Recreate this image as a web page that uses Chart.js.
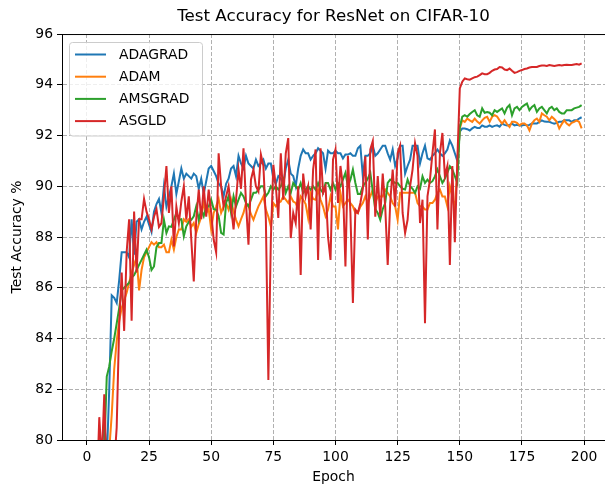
<!DOCTYPE html>
<html>
<head>
<meta charset="utf-8">
<script src="https://cdn.jsdelivr.net/npm/chart.js@4"></script>
<style>
  html, body { margin: 0; padding: 0; background: #fff; }
  canvas { display: block; }
</style>
</head>
<body>
<canvas id="accChart" width="605" height="487"></canvas>
<script>
// test accuracy per epoch
const seriesNames = ['ADAGRAD', 'ADAM', 'AMSGRAD', 'ASGLD'];
const seriesColors = ['#1f77b4', '#ff7f0e', '#2ca02c', '#d62728'];

const adagrad = [
  72.0, 74.0, 75.5, 76.5, 77.5, 78.5, 79.5, 80.8, 79.2, 82.0,
  85.7, 85.6, 85.4, 86.3, 87.4, 87.4, 87.4, 87.2, 88.7, 87.3,
  88.6, 88.7, 88.3, 88.6, 88.8, 88.5, 88.2, 89.0, 89.3, 89.5,
  88.95, 90.0, 89.2, 89.6, 90.0, 90.5, 89.7, 90.2, 90.7, 90.3,
  90.5, 90.4, 90.3, 90.5, 90.4, 89.9, 90.3, 89.7, 90.2, 90.7,
  90.8, 90.6, 90.4, 90.1, 90.0, 89.6, 90.1, 90.3, 90.7, 90.8,
  90.4, 91.2, 90.9, 90.7, 91.2, 90.9, 90.8, 90.7, 91.05, 90.8,
  90.9, 91.05, 90.7, 90.9, 90.9, 90.3, 90.1, 90.4, 90.3, 90.1,
  90.7, 91.05, 90.5, 90.4, 90.0, 90.7, 91.2, 91.45, 91.3, 91.3,
  91.05, 91.2, 91.3, 91.5, 91.4, 91.3, 90.7, 91.4, 91.3, 91.3,
  91.4, 91.3, 91.3, 91.1, 91.25, 91.25, 91.3, 91.2, 91.2, 91.5,
  91.6, 90.4, 91.2, 91.2, 91.3, 91.6, 91.2, 91.3, 91.45, 91.6,
  91.6, 91.3, 91.05, 91.45, 90.8, 91.1, 91.6, 91.6, 90.5, 90.8,
  91.05, 91.6, 91.6, 91.6, 90.9, 91.3, 91.6, 91.1, 91.05, 91.2,
  91.3, 91.45, 91.3, 91.2, 91.3, 91.45, 91.8, 91.6, 91.3, 91.0,
  92.15, 92.28, 92.28, 92.25, 92.2, 92.28, 92.34, 92.3, 92.3, 92.4,
  92.35, 92.35, 92.4, 92.34, 92.38, 92.4, 92.35, 92.47, 92.42, 92.4,
  92.42, 92.47, 92.4, 92.42, 92.4, 92.4, 92.42, 92.4, 92.42, 92.47,
  92.47, 92.47, 92.54, 92.6, 92.55, 92.54, 92.54, 92.5, 92.47, 92.5,
  92.54, 92.54, 92.6, 92.6, 92.6, 92.54, 92.6, 92.6, 92.67, 92.72
];

const adam = [
  70.0, 72.0, 73.5, 75.0, 76.0, 77.0, 78.0, 78.5, 79.2, 79.6,
  81.0, 82.8, 83.9, 84.7, 85.2, 85.5, 85.8, 86.2, 86.6, 86.9,
  87.2, 85.9, 86.7, 87.2, 87.4, 87.6, 87.8, 87.7, 87.8, 87.6,
  87.6, 87.7, 87.4, 87.4, 87.9, 87.5, 88.0, 88.3, 88.3, 88.7,
  88.6, 88.7, 88.4, 88.55, 88.16, 88.5, 88.8, 89.34, 88.95, 89.1,
  88.3, 88.95, 89.2, 89.5, 88.95, 89.2, 89.34, 89.08, 89.47, 89.0,
  88.68, 88.42, 88.7, 88.95, 89.34, 89.21, 88.9, 88.68, 88.95, 89.21,
  89.4, 89.6, 89.08, 88.8, 88.42, 89.34, 89.21, 89.34, 89.4, 89.6,
  89.47, 89.34, 89.6, 89.4, 89.34, 89.1, 89.6, 89.47, 89.3, 88.75,
  89.74, 89.5, 89.47, 89.87, 89.47, 89.2, 88.82, 89.08, 89.6, 89.2,
  89.2, 88.3, 89.74, 89.21, 89.34, 89.47, 89.34, 89.21, 88.95, 88.95,
  89.2, 89.34, 89.6, 89.34, 89.6, 89.87, 89.34, 89.6, 89.6, 89.6,
  89.87, 89.74, 89.6, 89.34, 89.21, 88.68, 89.74, 89.74, 89.74, 89.74,
  89.74, 89.74, 89.74, 89.34, 89.21, 89.2, 89.08, 89.08, 89.34, 89.34,
  89.47, 89.74, 89.87, 89.6, 89.6, 89.21, 90.0, 89.6, 89.08, 90.66,
  92.28, 92.6, 92.54, 92.67, 92.6, 92.54, 92.67, 92.55, 92.47, 92.6,
  92.7, 92.74, 92.54, 92.74, 92.8, 92.75, 92.6, 92.47, 92.6, 92.45,
  92.34, 92.54, 92.54, 92.5, 92.4, 92.47, 92.47, 92.4, 92.2, 92.47,
  92.6, 92.67, 92.54, 92.87, 92.8, 92.74, 92.6, 92.74, 92.65, 92.54,
  92.28, 92.45, 92.6, 92.47, 92.4, 92.5, 92.54, 92.6, 92.54, 92.28
];

const amsgrad = [
  71.0, 73.0, 74.5, 76.0, 77.0, 78.0, 79.0, 79.6, 82.5, 82.9,
  83.5, 84.0, 84.6, 85.2, 85.9, 86.0, 86.1, 86.2, 86.4, 86.5,
  86.7, 86.9, 87.1, 87.3, 87.5, 87.2, 86.7, 86.84, 87.6, 87.76,
  87.76, 88.68, 88.16, 88.42, 88.4, 88.68, 88.95, 88.68, 88.7, 88.03,
  88.42, 88.6, 88.68, 88.82, 89.21, 88.68, 89.08, 88.82, 89.21, 89.2,
  89.47, 89.1, 89.08, 88.82, 88.16, 88.1, 89.34, 89.61, 88.95, 89.61,
  89.21, 89.47, 89.74, 89.6, 89.34, 89.21, 89.47, 89.74, 89.74, 89.87,
  90.0, 90.0, 89.61, 89.74, 90.0, 89.87, 90.0, 89.87, 90.0, 90.26,
  89.74, 90.0, 89.74, 90.13, 90.0, 89.87, 90.13, 89.74, 89.87, 90.0,
  89.87, 90.0, 89.87, 90.13, 89.87, 89.74, 90.13, 90.13, 89.87, 90.13,
  89.87, 90.13, 90.0, 90.26, 90.53, 90.0, 90.26, 90.66, 90.13, 89.7,
  89.7, 90.0, 90.13, 90.3, 90.53, 89.8, 89.1, 88.95, 88.68, 89.1,
  89.34, 90.13, 90.26, 90.2, 90.13, 90.13, 90.0, 89.9, 89.87, 90.26,
  90.0, 89.9, 89.74, 90.0, 89.9, 90.39, 90.13, 90.26, 90.13, 90.2,
  90.39, 90.66, 90.39, 90.13, 90.3, 90.53, 90.79, 90.66, 90.4, 90.13,
  92.34, 92.74, 92.8, 92.74, 92.85, 92.93, 93.0, 92.8, 92.74, 93.07,
  92.9, 92.93, 92.9, 92.8, 93.0, 92.93, 93.0, 93.07, 92.87, 93.1,
  93.2, 92.8, 93.07, 93.13, 93.0, 93.13, 93.2, 93.26, 93.0, 93.13,
  93.2, 92.93, 93.07, 93.13, 93.0, 92.87, 93.07, 93.13, 93.0, 93.07,
  92.93, 92.87, 92.87, 93.0, 93.0, 93.0, 93.07, 93.1, 93.13, 93.2
];

const asgld = [
  70.0, 72.0, 74.0, 76.0, 78.0, 80.9, 79.2, 81.8, 78.5, 77.0,
  76.5, 79.0, 80.5, 84.5, 86.6, 84.3, 87.4, 88.7, 84.7, 89.0,
  86.6, 88.7, 88.7, 89.5, 89.0, 88.7, 88.3, 88.8, 89.1, 88.4,
  88.55, 89.6, 90.8, 88.95, 90.0, 87.63, 89.2, 88.55, 89.4, 90.0,
  88.68, 89.6, 87.9, 86.25, 88.7, 89.87, 88.7, 90.0, 88.8, 89.87,
  88.95, 87.9, 87.4, 91.3, 90.0, 89.2, 89.6, 90.0, 89.2, 88.3,
  89.47, 90.66, 89.9, 91.5, 89.34, 87.7, 90.26, 90.66, 90.0, 89.8,
  91.25, 90.8, 88.68, 82.37, 87.9, 90.85, 90.0, 88.75, 91.3, 89.47,
  91.3, 91.9, 87.96, 88.95, 88.55, 90.0, 86.5, 90.5, 89.6, 90.0,
  88.3, 90.66, 91.45, 87.1, 91.5, 89.74, 90.0, 88.0, 87.1, 91.05,
  91.45, 89.34, 90.8, 90.0, 86.84, 91.2, 88.95, 85.4, 89.08, 88.95,
  89.34, 89.9, 91.18, 87.9, 91.45, 91.78, 88.8, 90.4, 88.8, 90.5,
  89.2, 86.9, 89.34, 90.66, 89.2, 91.3, 91.6, 88.95, 88.16, 88.68,
  90.0, 90.66, 91.7, 91.2, 88.55, 89.47, 84.6, 89.6, 90.26, 91.3,
  92.24, 88.3, 91.3, 92.1, 90.4, 90.8, 86.9, 90.8, 87.8, 91.0,
  93.86, 94.12, 94.25, 94.22, 94.2, 94.25, 94.3, 94.32, 94.38, 94.45,
  94.42, 94.42, 94.47, 94.55, 94.6, 94.62, 94.7, 94.68, 94.6, 94.58,
  94.64, 94.55, 94.47, 94.5, 94.55, 94.58, 94.62, 94.64, 94.68, 94.7,
  94.7, 94.7, 94.74, 94.76, 94.76, 94.74, 94.78, 94.76, 94.74, 94.76,
  94.78, 94.76, 94.78, 94.79, 94.78, 94.78, 94.8, 94.82, 94.79, 94.84
];

const epochs = adagrad.map((_, i) => i);
const xTicks = [0, 25, 50, 75, 100, 125, 150, 175, 200];

const FONT = 'DejaVu Sans';

// matplotlib-like legend box in the upper left corner
const legendBox = {
  id: 'legendBox',
  afterDraw(chart) {
    const ctx = chart.ctx;
    const area = chart.chartArea;
    ctx.save();
    // top spine
    ctx.strokeStyle = '#000';
    ctx.lineWidth = 1;
    ctx.beginPath();
    ctx.moveTo(area.left, area.top + 0.5);
    ctx.lineTo(area.right, area.top + 0.5);
    ctx.stroke();

    const bx = 69.5, by = 42.5, bw = 133, bh = 93.5, r = 3;
    ctx.beginPath();
    ctx.moveTo(bx + r, by);
    ctx.arcTo(bx + bw, by, bx + bw, by + bh, r);
    ctx.arcTo(bx + bw, by + bh, bx, by + bh, r);
    ctx.arcTo(bx, by + bh, bx, by, r);
    ctx.arcTo(bx, by, bx + bw, by, r);
    ctx.closePath();
    ctx.fillStyle = 'rgba(255,255,255,0.8)';
    ctx.fill();
    ctx.strokeStyle = '#cccccc';
    ctx.stroke();

    ctx.font = '13.9px "' + FONT + '"';
    ctx.textBaseline = 'middle';
    ctx.textAlign = 'left';
    seriesNames.forEach((name, i) => {
      const y = 54.5 + i * 22.2;
      ctx.strokeStyle = seriesColors[i];
      ctx.lineWidth = 2;
      ctx.beginPath();
      ctx.moveTo(75, y);
      ctx.lineTo(106, y);
      ctx.stroke();
      ctx.fillStyle = '#000';
      ctx.fillText(name, 119, y + 0.5);
    });
    ctx.restore();
  }
};

const allSeries = [adagrad, adam, amsgrad, asgld];

new Chart(document.getElementById('accChart'), {
  type: 'line',
  data: {
    labels: epochs,
    datasets: allSeries.map((vals, i) => ({
      label: seriesNames[i],
      data: vals,
      borderColor: seriesColors[i],
      backgroundColor: seriesColors[i],
      borderWidth: 2,
      pointRadius: 0,
      tension: 0,
      fill: false,
      order: 3 - i
    }))
  },
  options: {
    responsive: false,
    animation: false,
    devicePixelRatio: 1,
    layout: { padding: 0 },
    plugins: {
      legend: { display: false },
      tooltip: { enabled: false },
      title: {
        display: true,
        text: 'Test Accuracy for ResNet on CIFAR-10',
        fullSize: false,
        color: '#000',
        font: { family: FONT, size: 16.7, weight: 'normal' },
        padding: { top: 7, bottom: 7 }
      }
    },
    scales: {
      x: {
        type: 'linear',
        min: -10,
        max: 208.4,
        afterBuildTicks: (scale) => { scale.ticks = xTicks.map(v => ({ value: v })); },
        afterFit: (scale) => { scale.height = 47; scale.paddingLeft = 0; scale.paddingRight = 0; },
        grid: {
          color: '#b0b0b0',
          lineWidth: 1,
          tickColor: '#000',
          tickLength: 5,
          tickWidth: 1,
          tickBorderDash: []
        },
        border: { display: true, color: '#000', width: 1, dash: [4, 2] },
        ticks: {
          color: '#000',
          font: { family: FONT, size: 13.9 },
          padding: 4,
          maxRotation: 0,
          autoSkip: false,
          callback: (v) => String(v)
        },
        title: {
          display: true,
          text: 'Epoch',
          color: '#000',
          font: { family: FONT, size: 13.9 },
          padding: { top: 0, bottom: 1 }
        }
      },
      y: {
        min: 80,
        max: 96,
        afterFit: (scale) => { scale.width = 62; scale.paddingTop = 0; scale.paddingBottom = 0; },
        grid: {
          color: '#b0b0b0',
          lineWidth: 1,
          tickColor: '#000',
          tickLength: 5,
          tickWidth: 1,
          tickBorderDash: []
        },
        border: { display: true, color: '#000', width: 1, dash: [4, 2] },
        ticks: {
          stepSize: 2,
          color: '#000',
          font: { family: FONT, size: 13.9 },
          padding: 4
        },
        title: {
          display: true,
          text: 'Test Accuracy %',
          color: '#000',
          font: { family: FONT, size: 13.9 },
          padding: { top: 9.5, bottom: 0 }
        }
      }
    }
  },
  plugins: [legendBox]
});
</script>
</body>
</html>
